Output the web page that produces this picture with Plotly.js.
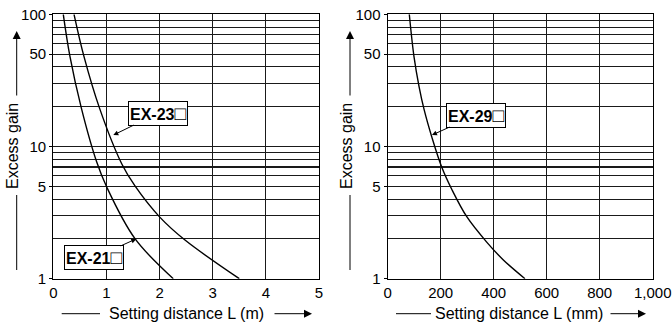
<!DOCTYPE html>
<html><head><meta charset="utf-8">
<script src="https://cdn.plot.ly/plotly-3.0.1.min.js"></script>
<style>html,body{margin:0;padding:0;background:#fff}</style>
</head><body><div id="chart" style="width:672px;height:324px"></div>
<script>
// Left panel: setting distance L (m) vs excess gain
const ex21_x = [0.188, 0.314, 0.527, 0.817, 1.005, 1.537, 2.258];
const ex21_y = [100, 47.8, 19.6, 7.63, 4.94, 2.01, 1];
const ex23_x = [0.390, 0.578, 0.868, 1.287, 1.537, 2.008, 2.478, 3.50];
const ex23_y = [100, 47.8, 19.6, 7.41, 5.03, 2.91, 1.96, 1];
// Right panel: setting distance L (mm) vs excess gain
const ex29_x = [81.5, 99.2, 118.5, 137.7, 166.4, 203.4, 243, 299, 372.8, 437.4, 518];
const ex29_y = [100, 47.8, 28.3, 18.9, 11.8, 7.03, 4.69, 2.93, 1.90, 1.38, 1];

const xTicksLeft = [0, 1, 2, 3, 4, 5];
const xTicksRight = [0, 200, 400, 600, 800, 1000];
const xTextRight = ['0', '200', '400', '600', '800', '1,000'];
const yTicks = [1, 5, 10, 50, 100];
const yMinor = [2, 3, 4, 6, 7, 8, 9, 20, 30, 40, 60, 70, 80, 90];

const FONT = 'Liberation Sans, Arial, Helvetica, sans-serif';
const W = 672, H = 324;
const px = v => v / W, py = v => 1 - v / H;

const lineStyle = {color: '#000', width: 1.4, shape: 'spline', smoothing: 1};
const traces = [
  {x: ex21_x, y: ex21_y, xaxis: 'x', yaxis: 'y', mode: 'lines', line: lineStyle, hoverinfo: 'skip'},
  {x: ex23_x, y: ex23_y, xaxis: 'x', yaxis: 'y', mode: 'lines', line: lineStyle, hoverinfo: 'skip'},
  {x: ex29_x, y: ex29_y, xaxis: 'x2', yaxis: 'y2', mode: 'lines', line: lineStyle, hoverinfo: 'skip'}
];

const tickfont = {family: FONT, size: 15, color: '#000'};
const gridC = '#1a1a1a';
function yax(anchor) {
  return {
    type: 'log', range: [0, 2], anchor: anchor,
    domain: [py(278.7), py(14.3)],
    tickmode: 'array', tickvals: yTicks, ticktext: yTicks.map(String),
    ticks: 'outside', ticklen: 3, tickcolor: '#000',
    showgrid: true, gridcolor: gridC, gridwidth: 1.1,
    minor: {tickmode: 'array', tickvals: yMinor, showgrid: true, gridcolor: gridC, gridwidth: 1.1, ticks: ''},
    showline: true, mirror: true, linecolor: '#000', linewidth: 1.2,
    zeroline: false, tickfont: tickfont, automargin: false, fixedrange: true
  };
}
function xax(anchor, dom, rng, tv, tt) {
  return {
    range: rng, anchor: anchor, domain: dom,
    tickmode: 'array', tickvals: tv, ticktext: tt,
    ticks: '', showgrid: true, gridcolor: gridC, gridwidth: 1.1,
    showline: true, mirror: true, linecolor: '#000', linewidth: 1.2,
    zeroline: false, tickfont: tickfont, automargin: false, fixedrange: true
  };
}

const labFont = {family: FONT, size: 16, color: '#000'};
function boxLabel(text, x, y, xr, yr, ax, ay) {
  return {text: '<b>' + text + '</b><span style="font-size:19px">□</span>', x: x, y: Math.log10(y), xref: xr, yref: yr,
    ax: ax, ay: ay, showarrow: true, arrowhead: 2, arrowsize: 1, arrowwidth: 1, arrowcolor: '#000',
    bordercolor: '#000', borderwidth: 1, borderpad: 1, bgcolor: '#fff',
    font: {family: FONT, size: 16, color: '#000'}};
}
function arrowPaper(hx, hy, tx, ty) {
  return {text: '', x: px(hx), y: py(hy), xref: 'paper', yref: 'paper',
    ax: tx - hx, ay: ty - hy, showarrow: true, arrowhead: 2, arrowsize: 1.6, arrowwidth: 1,
    arrowcolor: '#000', standoff: 0, startstandoff: 0};
}
function textPaper(t, x, y, angle) {
  return {text: t, x: px(x), y: py(y), xref: 'paper', yref: 'paper', showarrow: false,
    textangle: angle || 0, font: labFont, xanchor: 'center', yanchor: 'middle'};
}
function linePaper(x0, y0, x1, y1) {
  return {type: 'line', xref: 'paper', yref: 'paper', x0: px(x0), y0: py(y0), x1: px(x1), y1: py(y1),
    line: {color: '#000', width: 1}};
}

const annotations = [
  boxLabel('EX-23', 1.13, 12.2, 'x', 'y', 45, -22),
  boxLabel('EX-21', 1.56, 2.0, 'x', 'y', -42, 19),
  boxLabel('EX-29', 167, 12.2, 'x2', 'y2', 44, -20),
  // left axis titles
  textPaper('Excess gain', 12, 146, -90),
  arrowPaper(16.7, 31, 16.7, 97),
  textPaper('Setting distance L (m)', 186.5, 313.5),
  arrowPaper(312, 313.7, 273, 313.7),
  // right axis titles
  textPaper('Excess gain', 346, 146, -90),
  arrowPaper(350, 31, 350, 97),
  textPaper('Setting distance L (mm)', 519, 313.5),
  arrowPaper(646, 313.7, 609, 313.7)
];
const shapes = [
  linePaper(16.7, 195, 16.7, 270),
  linePaper(61.7, 313.7, 100, 313.7),
  linePaper(350, 195, 350, 270),
  linePaper(396, 313.7, 431, 313.7)
];

const layout = {
  width: W, height: H, margin: {l: 0, r: 0, t: 0, b: 0},
  paper_bgcolor: '#fff', plot_bgcolor: '#fff', showlegend: false,
  xaxis: xax('y', [px(53.3), px(319)], [0, 5], xTicksLeft, xTicksLeft.map(String)),
  yaxis: yax('x'),
  xaxis2: xax('y2', [px(387.7), px(652.7)], [0, 1000], xTicksRight, xTextRight),
  yaxis2: yax('x2'),
  annotations: annotations, shapes: shapes
};
Plotly.newPlot('chart', traces, layout, {staticPlot: true, displayModeBar: false});
</script></body></html>
